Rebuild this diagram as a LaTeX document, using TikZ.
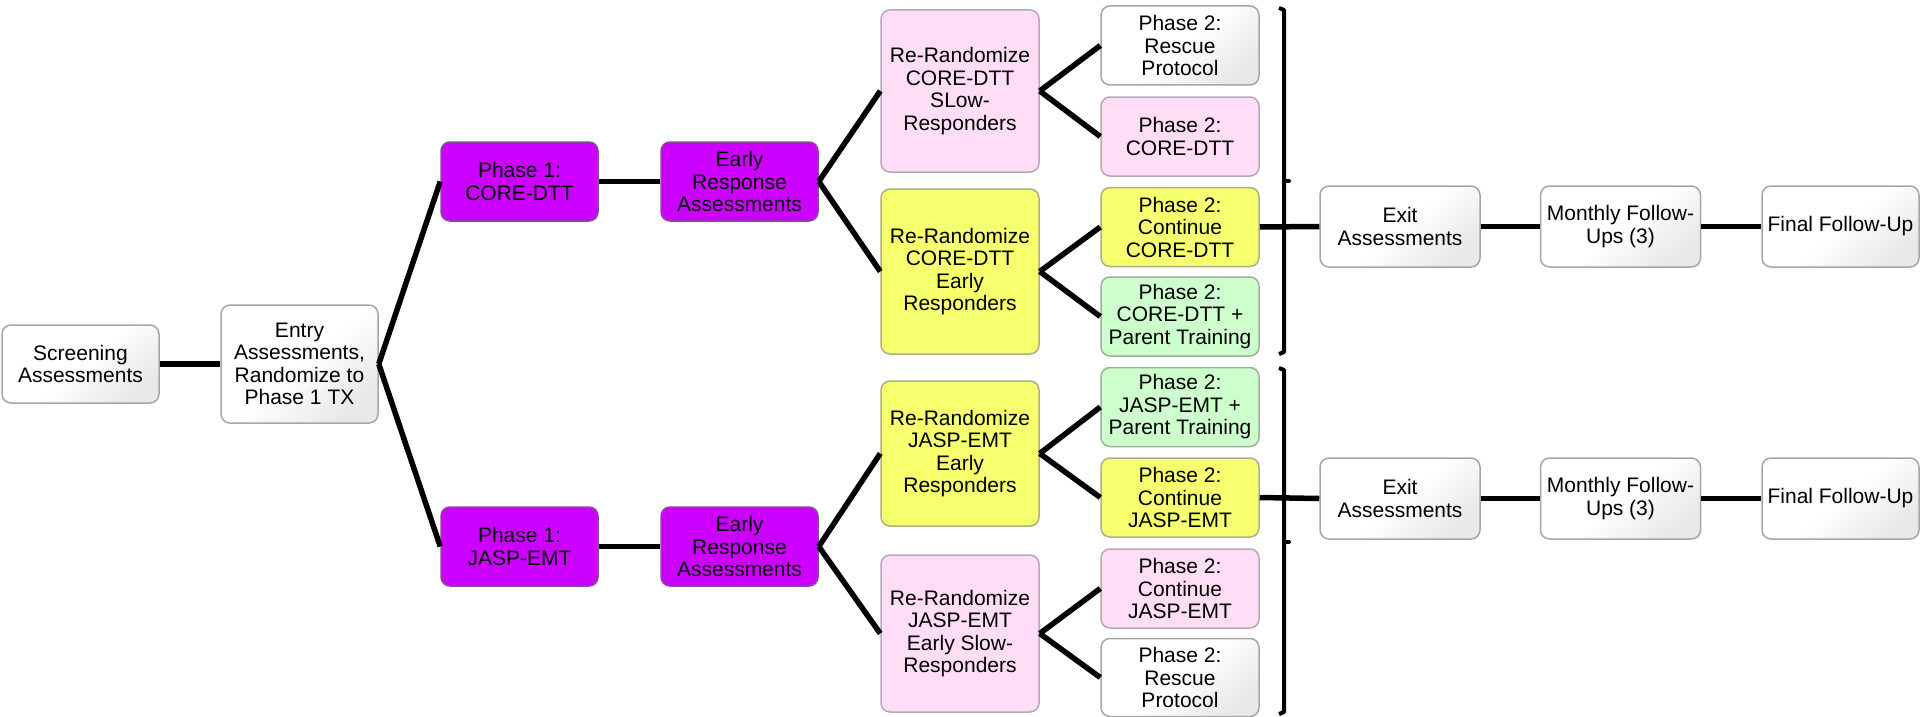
\documentclass[tikz,border=0pt]{standalone}
\usepackage{fontspec}
\setmainfont{Liberation Sans}
\definecolor{boxgray}{HTML}{A6A6A6}
\definecolor{purplefill}{HTML}{CC00FF}
\definecolor{purpleline}{HTML}{8A4A9A}
\definecolor{pinkfill}{HTML}{FFDDF7}
\definecolor{pinkline}{HTML}{B8A8B4}
\definecolor{yellowfill}{HTML}{F6FF6E}
\definecolor{yellowline}{HTML}{AEAE8A}
\definecolor{greenfill}{HTML}{CCFFCC}
\definecolor{greenline}{HTML}{9EB09E}
\tikzset{
  box/.style={draw=boxgray, line width=1.5pt, rounded corners=9pt,
    minimum width=157pt, minimum height=79pt, inner sep=0pt, align=center,
    font=\fontsize{21}{22.5}\selectfont, text=black},
  wbox/.style={box, top color=white, bottom color=black!9, middle color=white, shading angle=40},
  pbox/.style={box, fill=purplefill, draw=purpleline},
  kbox/.style={box, fill=pinkfill, draw=pinkline, minimum width=158pt},
  ybox/.style={box, fill=yellowfill, draw=yellowline, minimum width=158pt},
  gbox/.style={box, fill=greenfill, draw=greenline, minimum width=158pt},
  link/.style={line width=5.5pt, black},
  brk/.style={line width=4pt, black, line join=round}
}
\begin{document}
\begin{tikzpicture}[x=1pt, y=-1pt]
\useasboundingbox (0,0) rectangle (1920,717);

\node[wbox, minimum height=78pt] (scr) at (80.5,364) {Screening\\Assessments};
\node[wbox, minimum height=118pt] (entry) at (299.5,364) {Entry\\Assessments,\\Randomize to\\Phase 1 TX};

\node[pbox] (p1a) at (519.5,181.5) {Phase 1:\\CORE-DTT};
\node[pbox] (era) at (739.5,181.5) {Early\\Response\\Assessments};
\node[pbox] (p1b) at (519.5,546.5) {Phase 1:\\JASP-EMT};
\node[pbox] (erb) at (739.5,546.5) {Early\\Response\\Assessments};

\node[kbox, minimum height=162pt] (ra1) at (960,91) {Re-Randomize\\CORE-DTT\\SLow-\\Responders};
\node[ybox, minimum height=165pt] (ra2) at (960,271.5) {Re-Randomize\\CORE-DTT\\Early\\Responders};
\node[ybox, minimum height=145pt] (rb1) at (960,453.5) {Re-Randomize\\JASP-EMT\\Early\\Responders};
\node[kbox, minimum height=157pt] (rb2) at (960,633.5) {Re-Randomize\\JASP-EMT\\Early Slow-\\Responders};

\node[wbox, minimum width=158pt] (a1) at (1180,45.5) {Phase 2:\\Rescue\\Protocol};
\node[kbox] (a2) at (1180,136.5) {Phase 2:\\CORE-DTT};
\node[ybox] (a3) at (1180,227) {Phase 2:\\Continue\\CORE-DTT};
\node[gbox] (a4) at (1180,316.5) {Phase 2:\\CORE-DTT +\\Parent Training};
\node[gbox] (b1) at (1180,407) {Phase 2:\\JASP-EMT +\\Parent Training};
\node[ybox] (b2) at (1180,497.5) {Phase 2:\\Continue\\JASP-EMT};
\node[kbox] (b3) at (1180,588.5) {Phase 2:\\Continue\\JASP-EMT};
\node[wbox, minimum width=158pt, minimum height=78pt] (b4) at (1180,677.5) {Phase 2:\\Rescue\\Protocol};

\node[wbox, minimum width=160pt, minimum height=81pt] (exa) at (1400,226.5) {Exit\\Assessments};
\node[wbox, minimum width=160pt, minimum height=81pt] (moa) at (1620.5,226.5) {Monthly Follow-\\Ups (3)};
\node[wbox, minimum width=157pt, minimum height=81pt] (fia) at (1840.5,226.5) {Final Follow-Up};
\node[wbox, minimum width=160pt, minimum height=81pt] (exb) at (1400,498.5) {Exit\\Assessments};
\node[wbox, minimum width=160pt, minimum height=81pt] (mob) at (1620.5,498.5) {Monthly Follow-\\Ups (3)};
\node[wbox, minimum width=157pt, minimum height=81pt] (fib) at (1840.5,498.5) {Final Follow-Up};

\draw[link] (scr.east) -- (entry.west);
\draw[link] (entry.east) -- (p1a.west);
\draw[link] (entry.east) -- (p1b.west);
\draw[link] (p1a.east) -- (era.west);
\draw[link] (p1b.east) -- (erb.west);
\draw[link] (era.east) -- (ra1.west);
\draw[link] (era.east) -- (ra2.west);
\draw[link] (erb.east) -- (rb1.west);
\draw[link] (erb.east) -- (rb2.west);
\draw[link] (ra1.east) -- (a1.west);
\draw[link] (ra1.east) -- (a2.west);
\draw[link] (ra2.east) -- (a3.west);
\draw[link] (ra2.east) -- (a4.west);
\draw[link] (rb1.east) -- (b1.west);
\draw[link] (rb1.east) -- (b2.west);
\draw[link] (rb2.east) -- (b3.west);
\draw[link] (rb2.east) -- (b4.west);
\draw[link] (a3.east) -- (exa.west);
\draw[link] (exa.east) -- (moa.west);
\draw[link] (moa.east) -- (fia.west);
\draw[link] (b2.east) -- (exb.west);
\draw[link] (exb.east) -- (mob.west);
\draw[link] (mob.east) -- (fib.west);

\draw[brk] (1279,8) -- (1284,10) -- (1284,352) -- (1279,354);
\draw[brk, line cap=round] (1284,181) -- (1289,181);
\draw[brk] (1279,368) -- (1284,370) -- (1284,712) -- (1279,714);
\draw[brk, line cap=round] (1284,542) -- (1289,542);
\end{tikzpicture}
\end{document}
